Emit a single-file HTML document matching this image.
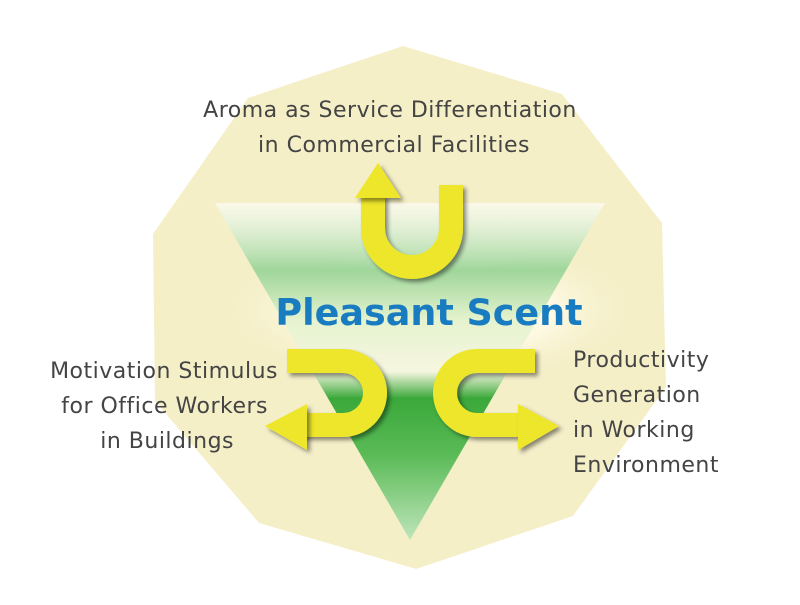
<!DOCTYPE html>
<html><head><meta charset="utf-8"><style>
html,body{margin:0;padding:0;background:#fff;}
svg{display:block;}
text{font-family:"DejaVu Sans","Liberation Sans",sans-serif;}
</style></head><body>
<svg width="800" height="605" viewBox="0 0 800 605">
<defs>
<linearGradient id="tri" x1="0" y1="0" x2="0" y2="1">
<stop offset="0" stop-color="#ffffff" stop-opacity="0.6"/>
<stop offset="0.2" stop-color="#9fd69a"/>
<stop offset="0.35" stop-color="#e6f3cf"/>
<stop offset="0.5" stop-color="#f6f6e0"/>
<stop offset="0.58" stop-color="#3aa83a"/>
<stop offset="0.75" stop-color="#5bbb57"/>
<stop offset="1" stop-color="#bfe5bb"/>
</linearGradient>
<radialGradient id="glow" cx="0.5" cy="0.5" r="0.5">
<stop offset="0" stop-color="#fffff6"/>
<stop offset="0.6" stop-color="#fffbe8" stop-opacity="0.8"/>
<stop offset="1" stop-color="#f5efc8" stop-opacity="0"/>
</radialGradient>
<filter id="sh" x="-20%" y="-20%" width="140%" height="140%"><feDropShadow dx="3" dy="3" stdDeviation="2" flood-color="#000" flood-opacity="0.45"/></filter>
</defs>
<polygon fill="#f5efc8" points="403,46 562,94 662,223 666,387 573,516 416,569 259,523 155,401 153,234 248,98"/>
<ellipse cx="430" cy="310" rx="210" ry="75" fill="url(#glow)"/>
<polygon fill="url(#tri)" points="215,203 605,203 410,540"/>
<g fill="none" stroke="#ede62c" stroke-width="24" filter="url(#sh)">
<path d="M451,185 V228 A39,39 0 0 1 373,228 V195"/>
<path d="M287,361 H343 A32,32 0 0 1 343,425 H300"/>
<path d="M535,361 H477 A32,32 0 0 0 477,425 H522"/>
</g>
<g fill="#ede62c" filter="url(#sh)">
<polygon points="355,198 378,163 401,198"/>
<polygon points="307,404 265,426 307,450"/>
<polygon points="518,404 559,426 518,450"/>
</g>
<text x="429" y="325" text-anchor="middle" font-size="36.5" font-weight="bold" fill="#1a7cc0">Pleasant Scent</text>
<g font-size="22" fill="#444" letter-spacing="0.5">
<text x="390" y="117" text-anchor="middle">Aroma as Service Differentiation</text>
<text x="394" y="152" text-anchor="middle">in Commercial Facilities</text>
<text x="278" y="378" text-anchor="end">Motivation Stimulus</text>
<text x="268" y="413" text-anchor="end">for Office Workers</text>
<text x="234" y="448" text-anchor="end">in Buildings</text>
<text x="573" y="367">Productivity</text>
<text x="573" y="402">Generation</text>
<text x="573" y="437">in Working</text>
<text x="573" y="472">Environment</text>
</g>
</svg>
</body></html>
